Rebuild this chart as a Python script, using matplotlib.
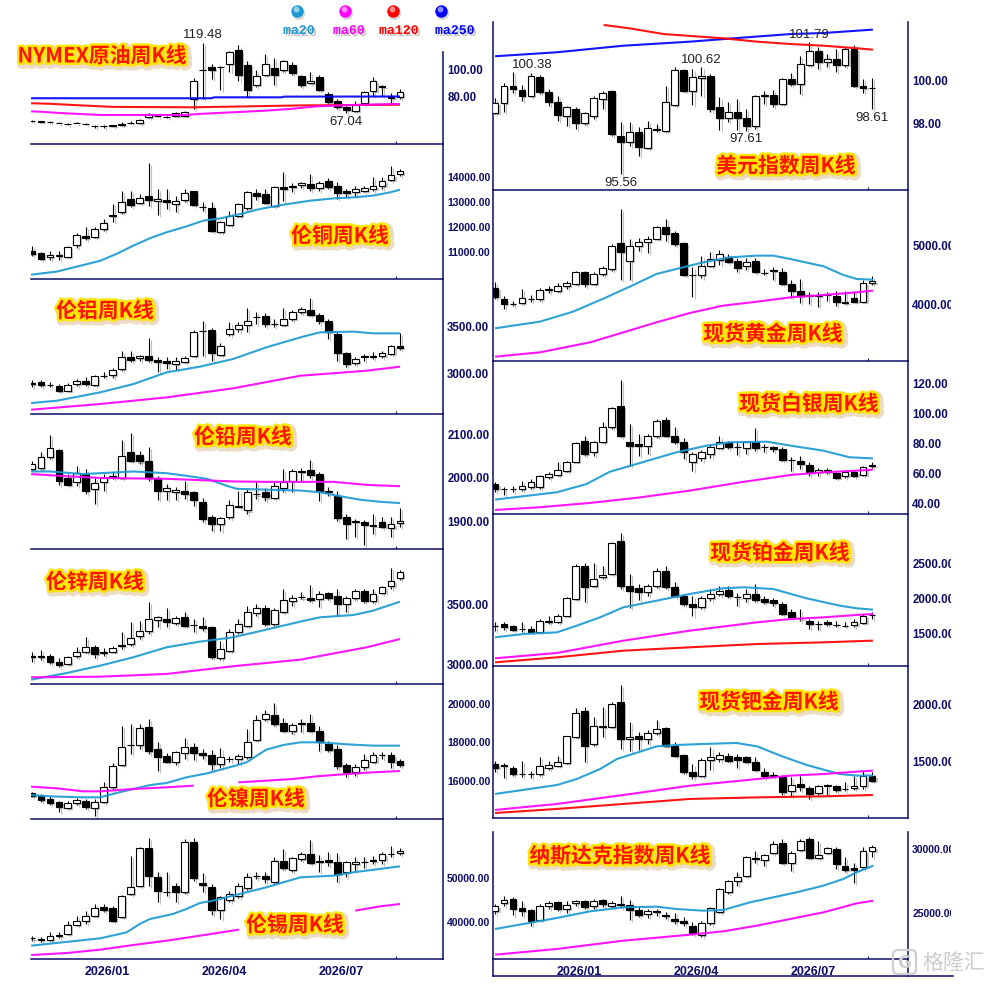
import numpy as np
import matplotlib
matplotlib.use("Agg")
import matplotlib.pyplot as plt
import matplotlib.patheffects as pe
from matplotlib.patches import FancyBboxPatch
from matplotlib.transforms import Bbox, TransformedBbox

W, H = 996, 987
NAVY = "#0c0c66"
MA_COLORS = {"ma20": "#1b9ad2", "ma60": "#ff00ff", "ma120": "#ff0000", "ma250": "#0000ff"}

date_ticks = [8.4, 21.45, 34.45]
date_labels = ["2026/01", "2026/04", "2026/07"]

# weekly candles (open, high, low, close); left column starts at week 0, right column at week -1
oil_ohlc = [
    (61.8, 62.3, 61.0, 61.5), (61.4, 61.8, 60.8, 61.0), (60.6, 61.2, 59.8, 60.5), (60.2, 60.6, 59.6, 59.9),
    (59.1, 59.8, 58.4, 59.0), (60.2, 60.8, 59.6, 59.9), (59.4, 60.0, 58.6, 59.0), (57.6, 58.2, 56.4, 57.5),
    (57.5, 58.4, 56.6, 57.6), (58.3, 58.8, 57.4, 57.9), (58.4, 60.4, 58.0, 59.2), (59.7, 61.2, 59.2, 59.9),
    (60.0, 63.0, 59.6, 62.5), (64.2, 67.4, 63.6, 66.7), (65.0, 66.0, 64.2, 65.1), (64.2, 65.0, 63.4, 64.3),
    (65.4, 67.9, 65.0, 67.2), (65.4, 68.6, 65.0, 67.9), (77.8, 93.3, 70.4, 91.4), (99.4, 119.48, 77.8, 99.6),
    (101.2, 103.7, 92.6, 99.3), (101.6, 102.2, 84.7, 101.8), (103.7, 113.6, 97.5, 112.3), (114.0, 118.0, 91.4, 95.6),
    (103.0, 106.2, 79.0, 84.7), (88.4, 99.3, 86.4, 95.1), (95.8, 111.1, 94.6, 103.7), (100.7, 107.9, 88.1, 95.6),
    (99.3, 106.9, 98.0, 106.2), (103.0, 105.4, 95.6, 97.0), (94.6, 95.6, 86.4, 88.1), (89.6, 97.5, 88.9, 91.4),
    (93.8, 95.6, 83.5, 84.7), (81.5, 83.2, 74.1, 75.8), (76.5, 77.8, 70.4, 71.6), (71.6, 72.3, 67.04, 69.6),
    (69.1, 76.5, 68.4, 73.3), (74.6, 83.5, 73.3, 82.7), (83.5, 93.8, 79.8, 91.1), (86.9, 88.1, 79.8, 87.1),
    (80.2, 82.0, 74.6, 78.5), (79.0, 85.2, 77.8, 82.7),
]
oil_ma250 = [(-0.1, 78.3), (20.0, 78.3), (20.3, 79.0), (27.8, 79.0), (28.1, 79.5), (41, 79.6)]
oil_ma120 = [(-0.1, 74.6), (2, 74.2), (5.5, 73.0), (9, 71.9), (18, 71.6), (24, 72.3), (30, 73.0), (41, 73.5)]
oil_ma60 = [(-0.1, 68.6), (1, 68.3), (3, 67.4), (7.6, 65.9), (17, 65.9), (18.7, 66.7), (22.4, 67.9),
            (26, 69.1), (28.8, 70.4), (31.7, 72.3), (35.4, 73.3), (41, 74.1)]
oil_marks = [(19, "high"), (35, "low")]

copper_ohlc = [
    (11030, 11200, 10830, 10900), (10925, 10965, 10660, 10700), (10765, 11030, 10675, 10860), (10830, 11030, 10660, 10845),
    (10790, 11230, 10765, 11160), (11255, 11730, 11120, 11665), (11625, 11955, 11465, 11520), (11560, 11955, 11530, 11890),
    (11890, 12285, 11820, 12110), (12455, 12880, 12150, 12415), (12550, 13380, 12480, 12945), (13075, 13405, 12745, 12840),
    (12920, 13275, 12880, 13100), (13180, 14500, 12810, 13035), (13000, 13470, 12440, 13075), (13050, 13470, 12680, 12945),
    (12880, 13180, 12575, 13000), (13035, 13470, 12970, 13300), (13380, 13405, 12810, 12850), (12760, 12945, 12615, 12745),
    (12705, 12945, 11755, 11820), (11780, 12220, 11715, 12150), (12045, 12615, 11995, 12390), (12415, 12920, 12350, 12865),
    (12705, 13380, 12655, 13340), (13315, 13470, 13050, 13210), (13275, 13470, 12880, 12920), (12810, 13605, 12745, 13540),
    (13540, 14160, 13010, 13470), (13540, 13710, 13340, 13605), (13650, 13760, 13500, 13690), (13670, 14065, 13405, 13500),
    (13510, 13800, 13405, 13710), (13800, 13895, 13470, 13565), (13605, 13735, 13075, 13300), (13405, 13470, 13140, 13315),
    (13340, 13605, 13140, 13470), (13405, 13605, 13340, 13510), (13470, 13935, 13405, 13605), (13605, 13935, 13470, 13775),
    (13840, 14370, 13800, 14025), (14065, 14265, 13975, 14200),
]
copper_ma20 = [(-0.1, 10080), (2.75, 10200), (5.7, 10460), (7.6, 10630), (9.4, 10900), (11.3, 11230), (13.2, 11530),
               (15, 11760), (17.2, 11990), (19.1, 12220), (21, 12310), (23.2, 12480), (25.4, 12680), (28, 12850),
               (31, 13010), (33.6, 13100), (35.8, 13140), (38, 13210), (39.9, 13340), (41, 13445)]

alu_ohlc = [
    (2885, 2921, 2839, 2880), (2893, 2921, 2839, 2868), (2866, 2893, 2839, 2862), (2857, 2875, 2786, 2804),
    (2804, 2882, 2796, 2868), (2875, 2929, 2857, 2911), (2904, 2946, 2857, 2875), (2868, 2971, 2850, 2957),
    (2962, 3000, 2936, 2966), (2971, 3043, 2936, 3029), (3036, 3232, 3018, 3161), (3161, 3232, 3114, 3132),
    (3150, 3186, 3125, 3179), (3171, 3364, 3114, 3136), (3136, 3161, 3000, 3114), (3125, 3161, 3036, 3096),
    (3089, 3161, 3029, 3125), (3114, 3179, 3100, 3150), (3171, 3457, 3161, 3436), (3443, 3554, 3179, 3446),
    (3457, 3471, 3125, 3204), (3186, 3314, 3171, 3286), (3411, 3543, 3386, 3464), (3464, 3543, 3429, 3511),
    (3507, 3686, 3429, 3554), (3594, 3643, 3518, 3598), (3600, 3636, 3482, 3514), (3520, 3571, 3482, 3516),
    (3507, 3686, 3500, 3571), (3571, 3671, 3554, 3650), (3643, 3696, 3625, 3679), (3671, 3793, 3600, 3614),
    (3614, 3636, 3518, 3554), (3546, 3571, 3357, 3436), (3411, 3436, 3125, 3204), (3204, 3214, 3054, 3089),
    (3096, 3161, 3079, 3143), (3170, 3196, 3125, 3166), (3170, 3214, 3143, 3166), (3171, 3232, 3150, 3204),
    (3196, 3293, 3186, 3279), (3279, 3421, 3243, 3257),
]
alu_ma20 = [(-0.1, 2671), (2.75, 2696), (7.6, 2786), (11.3, 2875), (15, 3000), (18.7, 3061), (22.4, 3143),
            (26.1, 3268), (29.9, 3375), (32.1, 3429), (35.8, 3436), (38, 3418), (41, 3418)]
alu_ma60 = [(-0.1, 2600), (7.6, 2661), (15, 2732), (22.4, 2829), (29.9, 2964), (37.3, 3018), (41, 3061)]

lead_ohlc = [
    (2018, 2037, 2014, 2029), (2019, 2058, 2017, 2045), (2045, 2096, 2041, 2065), (2062, 2064, 1981, 1991),
    (1998, 2006, 1978, 1981), (1987, 2024, 1978, 2008), (2006, 2018, 1960, 1966), (1972, 1998, 1937, 1985),
    (1987, 2006, 1967, 1998), (2001, 2010, 1995, 1999), (1998, 2085, 1995, 2047), (2058, 2101, 2033, 2037),
    (2050, 2060, 2029, 2035), (2035, 2068, 1991, 1996), (1996, 2002, 1947, 1966), (1966, 1984, 1947, 1973),
    (1964, 1976, 1947, 1969), (1968, 1991, 1949, 1960), (1964, 1968, 1932, 1947), (1941, 1951, 1895, 1902),
    (1906, 1911, 1875, 1891), (1891, 1907, 1875, 1904), (1906, 1947, 1902, 1935), (1931, 1966, 1929, 1933),
    (1922, 1972, 1914, 1965), (1959, 1987, 1949, 1961), (1964, 1973, 1943, 1952), (1950, 1987, 1949, 1978),
    (1975, 2017, 1964, 1987), (1991, 2017, 1964, 2014), (2010, 2019, 1991, 2014), (2015, 2039, 1998, 2004),
    (2006, 2010, 1945, 1968), (1968, 1976, 1955, 1964), (1956, 1966, 1897, 1904), (1906, 1914, 1856, 1891),
    (1895, 1902, 1860, 1898), (1895, 1901, 1842, 1888), (1889, 1914, 1867, 1887), (1895, 1906, 1881, 1883),
    (1881, 1908, 1860, 1891), (1893, 1927, 1883, 1898),
]
lead_ma20 = [(-0.1, 2012), (2, 2012), (5.7, 2006), (9.4, 2010), (11.3, 2012), (15, 2008), (17.2, 2002), (19.5, 1995),
             (21.7, 1979), (22.8, 1972), (26.1, 1970), (29.9, 1968), (32.1, 1964), (34.3, 1955), (36.5, 1947),
             (38.8, 1942), (41, 1939)]
lead_ma60 = [(-0.1, 2006), (3.9, 2001), (7.6, 1997), (11.3, 1996), (15, 1995), (18.7, 1992), (22.4, 1989),
             (26.1, 1988), (33.6, 1988), (37.3, 1981), (41, 1978)]

zinc_ohlc = [
    (3062, 3097, 3019, 3066), (3069, 3119, 3036, 3056), (3069, 3083, 3000, 3019), (3019, 3047, 2978, 2992),
    (3000, 3069, 2992, 3056), (3064, 3139, 3047, 3103), (3103, 3222, 3089, 3144), (3139, 3158, 3047, 3083),
    (3095, 3130, 3064, 3099), (3103, 3147, 3097, 3130), (3152, 3267, 3125, 3155), (3167, 3347, 3147, 3214),
    (3231, 3356, 3208, 3278), (3278, 3519, 3250, 3375), (3367, 3403, 3306, 3389), (3375, 3464, 3306, 3347),
    (3342, 3403, 3325, 3381), (3389, 3431, 3306, 3314), (3323, 3375, 3264, 3327), (3314, 3389, 3272, 3297),
    (3306, 3319, 3042, 3056), (3047, 3194, 3036, 3125), (3111, 3292, 3097, 3269), (3269, 3375, 3250, 3333),
    (3319, 3486, 3306, 3431), (3425, 3500, 3403, 3464), (3464, 3492, 3319, 3333), (3333, 3464, 3314, 3450),
    (3436, 3625, 3425, 3536), (3528, 3575, 3486, 3547), (3554, 3597, 3542, 3558), (3547, 3658, 3514, 3536),
    (3542, 3611, 3472, 3583), (3592, 3603, 3536, 3547), (3564, 3625, 3408, 3500), (3500, 3569, 3436, 3547),
    (3547, 3625, 3536, 3611), (3611, 3625, 3508, 3528), (3528, 3625, 3508, 3583), (3592, 3653, 3583, 3639),
    (3647, 3797, 3625, 3694), (3717, 3786, 3703, 3764),
]
zinc_ma20 = [(-0.1, 2869), (3.9, 2925), (7.6, 2986), (11.3, 3056), (15, 3139), (18.7, 3186), (22.4, 3222),
             (26.1, 3286), (29.9, 3353), (32.1, 3389), (35.8, 3408), (38, 3444), (41, 3519)]
zinc_ma60 = [(-0.1, 2889), (7.6, 2894), (15, 2917), (22.4, 2981), (29.9, 3036), (37.3, 3139), (41, 3208)]

nickel_ohlc = [
    (15298, 15385, 15090, 15177), (15177, 15263, 14865, 14969), (15004, 15142, 14692, 14796), (14830, 14917, 14311, 14571),
    (14519, 14917, 14484, 14796), (14796, 15038, 14692, 14969), (14917, 15004, 14484, 14571), (14519, 15004, 14138, 14865),
    (14830, 15904, 14796, 15610), (15610, 16874, 15523, 16736), (16770, 18779, 16701, 17688), (17800, 18900, 17342, 17820),
    (17809, 18900, 17602, 18675), (18727, 19160, 17342, 17515), (17602, 17948, 16476, 17169), (17221, 17394, 16874, 16943),
    (16909, 17515, 16770, 17428), (17394, 18156, 17082, 17688), (17688, 17913, 17047, 17394), (17394, 17602, 17082, 17290),
    (17290, 17567, 16528, 16822), (16822, 17636, 16597, 17169), (17070, 17221, 16909, 17090), (17082, 17342, 16822, 17255),
    (17169, 18641, 17082, 17948), (18087, 19368, 18035, 19126), (19160, 19645, 19074, 19420), (19368, 19992, 18814, 18900),
    (18935, 19195, 18468, 18554), (18520, 18953, 18381, 18866), (18925, 19160, 18502, 18940), (18935, 19420, 18468, 18554),
    (18554, 18779, 17515, 17948), (17861, 18035, 17428, 17567), (17602, 17809, 16562, 16736), (16770, 16874, 16129, 16389),
    (16389, 16822, 16181, 16684), (16649, 17342, 16528, 17047), (16943, 17463, 16874, 17290), (17280, 17428, 17082, 17300),
    (17290, 17428, 16597, 16943), (16995, 17082, 16649, 16770),
]
nickel_ma20 = [(-0.1, 15211), (2, 15142), (5.7, 15090), (7.6, 15090), (9.4, 15315), (11.3, 15523), (13.2, 15731),
               (15, 15835), (17.2, 16129), (19.5, 16337), (22.4, 16701), (23.9, 16909), (26.1, 17567), (28, 17810),
               (29.9, 17948), (32.1, 17948), (35.1, 17844), (38, 17775), (41, 17775)]
nickel_ma60 = [(-0.1, 15645), (2.75, 15558), (5.7, 15402), (7.6, 15402), (11.3, 15523), (15, 15610), (18, 15697),
               None, (23, 15869), (26.1, 15956), (29.1, 16043), (31.7, 16181), (35.1, 16302), (38, 16389), (41, 16458)]

tin_ohlc = [
    (36100, 36742, 35606, 36172), (35985, 36364, 35227, 35758), (35833, 37652, 35606, 36742), (36894, 37500, 36136, 36591),
    (37121, 40152, 36894, 39242), (39242, 41288, 38864, 40152), (40000, 42424, 39394, 41136), (41288, 43939, 41136, 42955),
    (43182, 43939, 42045, 42652), (42955, 43561, 39924, 40152), (40909, 45985, 40682, 45682), (46212, 54924, 45985, 47727),
    (47955, 56818, 47727, 56591), (56591, 58864, 48106, 50379), (50000, 51136, 44470, 46970), (46780, 51136, 45833, 46700),
    (47955, 48712, 44470, 46591), (46591, 58712, 46212, 58106), (57955, 58864, 49242, 49848), (48712, 50985, 46591, 48258),
    (47727, 48485, 41439, 42652), (42576, 45833, 40530, 45455), (44924, 46970, 44470, 46212), (45833, 48712, 45227, 48106),
    (47500, 50985, 47197, 50000), (50260, 51136, 49621, 50200), (50379, 51136, 48712, 49621), (48864, 54545, 48712, 53788),
    (53788, 56439, 51742, 52045), (51742, 54545, 51288, 54318), (54167, 55833, 53788, 55303), (55303, 58561, 53030, 53258),
    (53788, 55076, 51136, 53409), (54015, 55682, 52652, 53409), (53409, 55530, 49015, 50758), (51288, 53788, 50000, 53561),
    (53030, 54545, 51515, 53561), (53530, 54545, 52045, 53590), (53939, 54773, 53030, 53636), (53939, 55682, 53030, 55303),
    (55280, 57045, 54545, 55320), (55530, 56591, 55076, 56061),
]
tin_ma20 = [(-0.1, 34470), (7.6, 36136), (10.55, 37500), (12.0, 39394), (13.15, 40530), (15.7, 41667), (17.2, 42803),
            (18.7, 44167), (20.2, 44697), (22.4, 45833), (26.1, 47727), (29.9, 50000), (33.6, 50379), (35.8, 51136),
            (41, 52500)]
tin_ma60 = [(-0.1, 32348), (3.9, 32803), (7.6, 33561), (11.3, 34621), (15, 35606), (18.7, 36742), (23.06, 38106),
            None, (36.0, 42424), (38.8, 43409), (41, 43939)]

dxy_ohlc = [
    (98.44, 99.13, 98.39, 98.91), (98.91, 99.86, 98.50, 99.70), (99.70, 100.38, 99.39, 99.57), (99.54, 99.76, 99.02, 99.26),
    (99.23, 100.33, 99.18, 100.17), (100.13, 100.24, 99.34, 99.42), (99.42, 99.57, 98.79, 98.94), (98.98, 99.26, 98.08, 98.35),
    (98.31, 98.79, 97.84, 98.71), (98.63, 98.71, 97.68, 97.97), (97.97, 98.50, 97.87, 98.43), (98.31, 99.26, 98.16, 99.13),
    (99.10, 99.50, 98.63, 99.37), (99.50, 99.54, 97.37, 97.45), (97.37, 98.00, 95.56, 97.09), (97.05, 98.00, 96.90, 97.56),
    (97.56, 97.76, 96.42, 96.82), (96.77, 98.08, 96.74, 97.72), (97.63, 97.92, 97.53, 97.66), (97.61, 99.70, 97.56, 98.94),
    (98.83, 100.60, 98.79, 100.49), (100.47, 100.52, 99.42, 99.50), (99.50, 100.52, 98.82, 100.16), (100.08, 100.62, 99.26, 100.17),
    (100.17, 100.28, 98.50, 98.63), (98.71, 99.18, 97.65, 98.19), (98.19, 98.94, 98.00, 98.47), (98.47, 99.10, 97.65, 98.19),
    (98.19, 98.63, 97.61, 97.81), (97.81, 99.29, 97.68, 99.23), (99.23, 99.50, 98.87, 99.31), (99.29, 99.54, 98.71, 98.87),
    (98.87, 100.08, 98.82, 100.05), (100.05, 100.33, 99.70, 99.81), (99.81, 101.12, 99.34, 100.76), (100.71, 101.79, 100.68, 101.39),
    (101.39, 101.54, 100.52, 100.83), (100.83, 101.23, 100.60, 100.99), (100.99, 101.46, 100.36, 100.72), (100.71, 101.54, 100.60, 101.46),
    (101.46, 101.65, 99.65, 99.73), (99.70, 100.05, 99.39, 99.61), (99.62, 100.08, 98.61, 99.61),
]
dxy_ma250 = [(-1, 101.12), (5.9, 101.31), (13.3, 101.62), (20.7, 101.81), (25.6, 101.97), (31.9, 102.17),
             (35.6, 102.22), (41.1, 102.38)]
dxy_ma120 = [(11.1, 102.60), (14.0, 102.44), (17.8, 102.17), (24.4, 101.97), (28.2, 101.81), (31.9, 101.70),
             (35.6, 101.62), (39.3, 101.50), (41.1, 101.43)]
dxy_marks = [(1, "high"), (13, "low"), (22, "high"), (27, "low"), (34, "high"), (41, "low")]

gold_ohlc = [
    (4264, 4365, 4084, 4112), (4084, 4129, 3916, 4000), (4003, 4056, 3961, 3997), (4017, 4253, 4000, 4096),
    (4084, 4152, 4039, 4086), (4084, 4264, 4056, 4242), (4242, 4298, 4185, 4245), (4225, 4354, 4197, 4309),
    (4298, 4393, 4253, 4354), (4337, 4562, 4320, 4534), (4545, 4562, 4292, 4337), (4337, 4545, 4320, 4506),
    (4506, 4635, 4466, 4601), (4590, 5017, 4562, 4983), (5028, 5601, 4410, 4871), (4730, 5096, 4410, 4972),
    (4972, 5107, 4899, 5051), (5051, 5152, 4860, 5096), (5096, 5309, 5096, 5292), (5292, 5433, 5067, 5180),
    (5191, 5236, 4983, 5011), (5028, 5051, 4478, 4489), (4489, 4618, 4112, 4492), (4489, 4815, 4433, 4646),
    (4635, 4871, 4618, 4758), (4747, 4910, 4657, 4843), (4787, 4843, 4685, 4713), (4730, 4770, 4545, 4607),
    (4635, 4770, 4567, 4713), (4730, 4770, 4522, 4545), (4525, 4590, 4489, 4519), (4565, 4630, 4410, 4560),
    (4545, 4607, 4320, 4337), (4337, 4404, 4107, 4225), (4225, 4421, 4017, 4140), (4142, 4197, 4000, 4138),
    (4129, 4197, 3944, 4152), (4154, 4197, 4056, 4150), (4129, 4219, 3972, 4028), (4017, 4219, 4000, 4039),
    (4096, 4219, 4028, 4039), (4039, 4404, 4028, 4354), (4354, 4477, 4320, 4393),
]
gold_ma20 = [(-1, 3590), (4, 3702), (7.7, 3871), (11.4, 4112), (14.4, 4320), (17, 4506), (19.2, 4590), (22.2, 4702),
             (25.2, 4787), (28.2, 4815), (30, 4815), (31.9, 4758), (35.6, 4635), (37.8, 4489), (39.3, 4421), (41.1, 4410)]
gold_ma60 = [(-1, 3112), (4, 3185), (9.6, 3354), (13.3, 3522), (17, 3691), (20.7, 3848), (24.4, 3972), (28.2, 4039),
             (31.9, 4112), (35.6, 4152), (39.3, 4197), (41.1, 4225)]

silver_ohlc = [
    (52.2, 53.3, 46.7, 48.9), (48.95, 50.0, 45.1, 48.85), (48.95, 51.1, 46.7, 48.85), (48.9, 54.4, 47.8, 51.1),
    (50.0, 55.6, 48.9, 53.3), (50.0, 58.2, 48.9, 57.3), (56.7, 60.4, 55.6, 58.9), (58.2, 67.1, 57.3, 61.8),
    (61.1, 67.8, 60.0, 67.1), (67.1, 80.0, 66.7, 79.6), (81.1, 84.4, 71.1, 72.2), (73.3, 81.1, 71.1, 80.0),
    (80.0, 93.3, 79.6, 90.0), (90.0, 103.3, 88.9, 102.7), (104.4, 121.8, 83.3, 84.4), (80.4, 92.2, 64.4, 77.8),
    (78.9, 85.6, 71.1, 77.3), (77.8, 85.6, 72.2, 84.4), (84.0, 95.6, 82.7, 94.0), (95.1, 96.7, 83.3, 84.4),
    (84.4, 90.0, 78.9, 80.0), (80.4, 82.7, 68.9, 73.3), (67.1, 73.3, 61.1, 72.2), (69.3, 75.1, 67.8, 73.3),
    (72.2, 78.9, 69.3, 76.7), (76.0, 84.0, 75.6, 80.4), (80.4, 81.1, 75.6, 76.7), (76.8, 80.0, 71.6, 76.6),
    (76.0, 81.1, 72.2, 80.0), (80.4, 89.3, 74.4, 76.0), (76.8, 78.9, 73.3, 76.6), (76.7, 77.8, 73.8, 75.6),
    (75.6, 76.7, 67.8, 68.4), (68.5, 70.0, 61.1, 68.3), (67.8, 71.1, 62.2, 65.6), (64.9, 66.7, 57.3, 60.0),
    (60.0, 62.7, 57.3, 61.8), (61.8, 62.7, 58.9, 60.0), (59.6, 60.4, 55.6, 56.0), (57.3, 61.1, 56.0, 60.0),
    (60.0, 61.8, 56.7, 57.8), (58.2, 64.4, 57.3, 63.3), (64.9, 66.7, 62.7, 64.0),
]
silver_ma20 = [(-1, 41.8), (5.9, 46.7), (9.2, 52.2), (11.8, 60.4), (14.4, 64.9), (19.2, 73.3), (22.6, 77.8),
               (25.2, 80.0), (29.3, 80.4), (31.9, 77.8), (35.6, 74.4), (38.5, 70.0), (41.1, 69.3)]
silver_ma60 = [(-1, 34.9), (4, 36.7), (9.6, 39.6), (15.2, 43.3), (20.7, 47.8), (26.3, 53.3), (31.9, 58.2),
               (35.6, 60.0), (39.3, 61.1), (41.1, 61.8)]

plat_ohlc = [
    (1597, 1643, 1524, 1593), (1619, 1643, 1538, 1571), (1586, 1605, 1524, 1538), (1550, 1643, 1500, 1546),
    (1548, 1586, 1500, 1510), (1510, 1690, 1490, 1667), (1643, 1729, 1619, 1667), (1652, 1762, 1633, 1738),
    (1738, 2000, 1729, 1986), (1976, 2476, 1967, 2452), (2452, 2490, 1938, 2143), (2167, 2490, 2143, 2262),
    (2286, 2452, 2262, 2319), (2333, 2795, 2319, 2776), (2810, 2919, 2119, 2167), (2167, 2333, 1843, 2095),
    (2129, 2190, 1967, 2071), (2071, 2190, 2024, 2167), (2157, 2414, 2129, 2381), (2381, 2452, 2119, 2143),
    (2143, 2224, 2000, 2024), (2014, 2048, 1881, 1905), (1905, 2024, 1738, 1857), (1857, 2014, 1833, 1986),
    (1986, 2119, 1952, 2048), (2048, 2157, 2014, 2095), (2110, 2157, 1986, 2014), (2002, 2062, 1881, 1998),
    (1986, 2119, 1938, 2048), (2048, 2190, 1929, 1967), (1976, 2014, 1905, 1929), (1967, 1986, 1881, 1919),
    (1905, 1929, 1748, 1762), (1786, 1833, 1690, 1714), (1702, 1833, 1667, 1698), (1667, 1690, 1548, 1619),
    (1621, 1667, 1538, 1617), (1643, 1681, 1595, 1619), (1607, 1667, 1571, 1603), (1597, 1643, 1571, 1593),
    (1605, 1690, 1571, 1643), (1633, 1762, 1619, 1738), (1746, 1786, 1690, 1750),
]
plat_ma20 = [(-1, 1429), (2.2, 1476), (5.9, 1500), (8.1, 1595), (10.7, 1714), (13.3, 1857), (17, 1952), (20.7, 2048),
             (24.4, 2129), (26.7, 2143), (30, 2119), (33.7, 1986), (37.4, 1881), (39.3, 1843), (41.1, 1824)]
plat_ma60 = [(-1, 1129), (5.9, 1205), (13.3, 1381), (20.7, 1524), (28.2, 1643), (31.9, 1690), (35.6, 1714),
             (39.3, 1748), (41.1, 1762)]
plat_ma120 = [(-1, 1071), (5.9, 1143), (13.3, 1238), (20.7, 1286), (28.2, 1333), (35.6, 1357), (41.1, 1381)]

pall_ohlc = [
    (1471, 1500, 1397, 1432), (1458, 1479, 1344, 1454), (1432, 1456, 1368, 1382), (1384, 1500, 1353, 1380),
    (1384, 1412, 1344, 1380), (1382, 1529, 1368, 1450), (1432, 1500, 1421, 1462), (1456, 1538, 1450, 1485),
    (1479, 1721, 1471, 1715), (1706, 1962, 1697, 1921), (1941, 1971, 1485, 1632), (1647, 1882, 1626, 1809),
    (1809, 1971, 1706, 1794), (1794, 2021, 1785, 2000), (2015, 2168, 1603, 1691), (1691, 1838, 1588, 1706),
    (1715, 1756, 1597, 1691), (1691, 1774, 1647, 1744), (1744, 1862, 1726, 1779), (1785, 1794, 1618, 1632),
    (1632, 1662, 1529, 1544), (1550, 1559, 1382, 1397), (1397, 1471, 1338, 1368), (1368, 1521, 1353, 1509),
    (1509, 1618, 1421, 1529), (1515, 1579, 1491, 1550), (1544, 1568, 1485, 1500), (1529, 1559, 1432, 1509),
    (1529, 1538, 1479, 1485), (1485, 1529, 1412, 1421), (1403, 1432, 1344, 1362), (1370, 1397, 1353, 1366),
    (1353, 1374, 1197, 1226), (1235, 1353, 1191, 1285), (1294, 1368, 1235, 1265), (1256, 1279, 1162, 1206),
    (1215, 1285, 1197, 1274), (1281, 1294, 1197, 1277), (1274, 1285, 1226, 1244), (1248, 1309, 1235, 1252),
    (1256, 1368, 1244, 1279), (1274, 1412, 1250, 1368), (1368, 1397, 1309, 1324),
]
pall_ma20 = [(-1, 1206), (5.9, 1285), (8.1, 1338), (10.7, 1426), (12.6, 1515), (14, 1550), (17, 1626), (19.2, 1638),
             (22.2, 1647), (25.9, 1656), (28.2, 1626), (30.8, 1544), (33.7, 1462), (37.4, 1382), (39.3, 1368), (41.1, 1368)]
pall_ma60 = [(-1, 1065), (5.9, 1118), (13.3, 1197), (20.7, 1279), (28.2, 1338), (31.9, 1368), (35.6, 1382),
             (39.3, 1403), (41.1, 1412)]
pall_ma120 = [(-1, 1038), (5.9, 1074), (13.3, 1118), (20.7, 1162), (28.2, 1176), (35.6, 1185), (41.1, 1197)]

ndx_ohlc = [
    (25130, 25651, 24870, 25521), (25703, 26302, 25521, 25964), (26042, 26172, 24818, 25260), (25339, 25860, 24740, 25130),
    (25183, 25260, 23958, 24349), (24401, 25651, 24349, 25521), (25521, 25860, 25260, 25703), (25781, 25912, 25130, 25260),
    (25260, 25860, 24922, 25599), (25703, 25964, 25521, 25860), (25860, 25964, 25260, 25391), (25521, 26042, 25260, 25912),
    (25964, 26042, 25443, 25651), (25521, 25860, 25339, 25703), (25570, 26302, 25339, 25620), (25599, 25964, 24401, 25183),
    (25183, 25391, 24610, 24818), (24870, 25260, 24557, 25130), (25060, 25260, 24740, 25095), (24760, 25000, 24479, 24720),
    (24479, 24922, 24089, 24297), (24297, 24662, 23958, 24141), (23958, 24219, 23255, 23359), (23255, 24349, 23099, 24141),
    (24141, 25443, 24037, 25339), (25000, 26901, 24922, 26823), (26563, 27526, 26432, 27474), (27474, 28125, 27083, 27786),
    (27865, 29427, 27734, 29349), (29245, 29766, 28828, 29167), (29089, 29583, 28646, 29505), (29609, 30547, 29557, 30339),
    (30391, 30729, 28776, 28828), (28828, 29766, 28203, 29609), (29870, 30729, 29766, 30599), (30729, 30859, 29167, 29245),
    (29245, 30599, 29167, 29505), (29609, 30078, 29557, 30026), (29948, 30078, 28385, 28776), (28646, 29349, 28125, 28307),
    (28463, 28828, 27266, 28307), (28516, 30078, 28385, 29766), (29766, 30287, 29349, 30078),
]
ndx_ma20 = [(-1, 23698), (2.15, 24089), (5.87, 24557), (9.58, 25078), (13.29, 25391), (17, 25443), (19.23, 25260),
            (22.2, 25130), (24.43, 25183), (27.4, 25781), (30, 26172), (32.6, 26563), (35.57, 27083), (37.8, 27604),
            (39.29, 28125), (41.14, 28646)]
ndx_ma60 = [(-1, 21693), (5.87, 22136), (13.29, 22787), (20.72, 23255), (24.43, 23516), (28.15, 23958), (31.86, 24479),
            (35.57, 25000), (39.29, 25703), (41.14, 25912)]

# panel table: ohlc, first week, ma lines, y ticks, column, top px, bottom px, y range, title, title centre px, marks
panels = [
    (oil_ohlc, 0, [(oil_ma250, "ma250"), (oil_ma120, "ma120"), (oil_ma60, "ma60")], [100, 80], 0, 23, 145,
     (44.4, 134.8), "NYMEX原油周K线", (102, 57), oil_marks),
    (copper_ohlc, 0, [(copper_ma20, "ma20")], [14000, 13000, 12000, 11000], 0, 145, 280,
     (9908, 15254), "伦铜周K线", (340, 237), []),
    (alu_ohlc, 0, [(alu_ma20, "ma20"), (alu_ma60, "ma60")], [3500, 3000], 0, 280, 415,
     (2554, 4000), "伦铝周K线", (105, 312), []),
    (lead_ohlc, 0, [(lead_ma20, "ma20"), (lead_ma60, "ma60")], [2100, 2000, 1900], 0, 415, 550,
     (1833.1, 2144.6), "伦铅周K线", (243, 438), []),
    (zinc_ohlc, 0, [(zinc_ma20, "ma20"), (zinc_ma60, "ma60")], [3500, 3000], 0, 550, 685,
     (2833, 3958), "伦锌周K线", (95, 583), []),
    (nickel_ohlc, 0, [(nickel_ma20, "ma20"), (nickel_ma60, "ma60")], [20000, 18000, 16000], 0, 685, 820,
     (13964, 20979), "伦镍周K线", (256, 800), []),
    (tin_ohlc, 0, [(tin_ma20, "ma20"), (tin_ma60, "ma60")], [50000, 40000], 0, 820, 960,
     (31439, 63258), "伦锡周K线", (295, 926), []),
    (dxy_ohlc, -1, [(dxy_ma250, "ma250"), (dxy_ma120, "ma120")], [100, 98], 1, 23, 191,
     (94.80, 102.74), "美元指数周K线", (786, 167), dxy_marks),
    (gold_ohlc, -1, [(gold_ma20, "ma20"), (gold_ma60, "ma60")], [5000, 4000], 1, 191, 362,
     (3039, 5921), "现货黄金周K线", (773, 335), []),
    (silver_ohlc, -1, [(silver_ma20, "ma20"), (silver_ma60, "ma60")], [120, 100, 80, 60, 40], 1, 362, 515,
     (32.2, 134.2), "现货白银周K线", (809, 405), []),
    (plat_ohlc, -1, [(plat_ma20, "ma20"), (plat_ma60, "ma60"), (plat_ma120, "ma120")], [2500, 2000, 1500], 1, 515, 667,
     (1019, 3190), "现货铂金周K线", (780, 554), []),
    (pall_ohlc, -1, [(pall_ma20, "ma20"), (pall_ma60, "ma60"), (pall_ma120, "ma120")], [2000, 1500], 1, 667, 819,
     (994, 2335), "现货钯金周K线", (769, 703), []),
    (ndx_ohlc, -1, [(ndx_ma20, "ma20"), (ndx_ma60, "ma60")], [30000, 25000], 1, 833, 960,
     (21355, 31276), "纳斯达克指数周K线", (620, 857), []),
]

fig = plt.figure(figsize=(W / 100, H / 100), dpi=100)
line_shadow = [pe.SimpleLineShadow(offset=(1.5, -1.5), shadow_color="0.45", alpha=0.45), pe.Normal()]
body_shadow = [pe.SimplePatchShadow(offset=(1.5, -1.5), shadow_rgbFace="0.5", alpha=0.45), pe.Normal()]

for ohlc, first, mas, yticks, col, top, bottom, ylim, title, tpos, marks in panels:
    if col == 0:
        x0, x1, xlim, clip_x = 31, 443, (-0.11, 45.79), 492
    else:
        x0, x1, xlim, clip_x = 493, 908, (-1.225, 45.01), 951
    ax = fig.add_axes([x0 / W, 1 - bottom / H, (x1 - x0) / W, (bottom - top) / H])
    ax.set_xlim(*xlim)
    ax.set_ylim(*ylim)
    ax.patch.set_alpha(0)
    for s in ax.spines.values():
        s.set_color(NAVY)
        s.set_linewidth(1.1)
    ax.spines["top"].set_visible(False)
    ax.spines["left"].set_visible(col == 1)
    if top == 23 and col == 0:
        ax.spines["right"].set_bounds(ylim[0], 112.6)

    # candles
    arr = np.array(ohlc, dtype=float)
    o, h, l, c = arr.T
    x = np.arange(first, first + len(arr))
    ax.vlines(x, l, h, colors="black", linewidth=0.8, zorder=2, path_effects=line_shadow)
    span = ylim[1] - ylim[0]
    body = np.maximum(np.abs(c - o), span * 0.002)
    bars = ax.bar(x, body, 0.76, np.minimum(o, c), color=np.where(c >= o, "white", "black"),
                  edgecolor="black", linewidth=0.8, zorder=3)
    for b in bars:
        b.set_path_effects(body_shadow)

    for knots, name in mas:
        xs = [np.nan if k is None else k[0] for k in knots]
        vs = [np.nan if k is None else k[1] for k in knots]
        ax.plot(xs, vs, color=MA_COLORS[name], lw=1.5, zorder=4, alpha=0.92, solid_capstyle="butt")

    for idx, side in marks:
        oo, hh, ll, cc = ohlc[idx - first]
        v = hh if side == "high" else ll
        ha = "left" if (idx - first) < 3 else "center"
        ax.annotate(f"{v:.2f}", (idx, v), xytext=(-1 if ha == "left" else 0, 6 if side == "high" else -5.6),
                    textcoords="offset points", ha=ha, va="center", fontsize=9.5, color="#202020",
                    family="Liberation Sans", annotation_clip=False, zorder=6)

    ax.yaxis.tick_right()
    labels = [f"{t:.2f}" for t in yticks]
    size = 7.5 if max(len(s) for s in labels) >= 8 else 8.3
    ax.set_yticks(yticks, labels, fontsize=size, fontweight="bold", color=NAVY, family="Liberation Sans")
    ax.tick_params(axis="y", length=0, pad=3)
    clipbox = TransformedBbox(Bbox.from_extents(0, 0, clip_x / W, 1), fig.transFigure)
    for t in ax.get_yticklabels():
        t.set_clip_box(clipbox)
        t.set_clip_on(True)

    ax.set_xticks([])
    ax.set_xticks([40.55], minor=True)
    ax.tick_params(axis="x", which="minor", direction="in", length=2, width=0.8, color=NAVY)
    if bottom == 960:
        ax.set_xticks(date_ticks, date_labels, fontsize=9, fontweight="bold", color=NAVY, family="Liberation Sans")
        ax.tick_params(axis="x", which="major", length=0, pad=4)
    if col == 1 and bottom == 960:
        ext = 17 / (bottom - top)
        for xs, ys in [((0, 0), (0, -ext)), ((1, 1), (0, -ext)), ((0, 460 / 415), (-ext, -ext))]:
            ax.plot(xs, ys, transform=ax.transAxes, clip_on=False, color=NAVY, lw=1.1)

# overlay for titles, legend and watermark (pixel coordinates)
ov = fig.add_axes([0, 0, 1, 1])
ov.set_xlim(0, W)
ov.set_ylim(H, 0)
ov.set_axis_off()
ov.patch.set_alpha(0)

title_fx = [pe.Stroke(linewidth=6, foreground="#c89a50", alpha=0.35, offset=(1.5, -1.5)),
            pe.Stroke(linewidth=3.5, foreground="#ffe800"), pe.Normal()]
for ohlc, first, mas, yticks, col, top, bottom, ylim, title, tpos, marks in panels:
    ov.text(tpos[0], tpos[1], title, ha="center", va="center", fontsize=15, fontweight="bold",
            color="#ff1400", family=["Noto Sans CJK SC", "DejaVu Sans"], path_effects=title_fx, zorder=10)

legend_names = ["ma20", "ma60", "ma120", "ma250"]
legend_x = [299, 349, 399, 455]
ball_x = [297, 345, 393, 441]
for name, lx, bx in zip(legend_names, legend_x, ball_x):
    ov.scatter([bx + 1], [14], s=90, color="0.6", alpha=0.4, zorder=9, linewidths=0)
    ov.scatter([bx], [12], s=80, color=MA_COLORS[name], zorder=10, linewidths=0)
    ov.scatter([bx - 1.5], [10], s=18, color="white", alpha=0.55, zorder=11, linewidths=0)
    ov.text(lx, 32, name, ha="center", va="center", fontsize=9.5, fontweight="bold", color=MA_COLORS[name],
            family="Liberation Mono", zorder=10,
            path_effects=[pe.SimplePatchShadow(offset=(1.5, -1.5), shadow_rgbFace="0.55", alpha=0.5), pe.Normal()])

# watermark
ov.add_patch(FancyBboxPatch((893, 951), 23, 24, boxstyle="round,pad=0,rounding_size=5",
                            fill=False, edgecolor="#cfcfcf", lw=1.6, zorder=12))
ov.text(904.5, 963, "G", ha="center", va="center", fontsize=12, fontweight="bold", color="#cfcfcf", zorder=12)
ov.text(954, 963, "格隆汇", ha="center", va="center", fontsize=15, color="#cccccc",
        family=["Noto Sans CJK SC", "DejaVu Sans"], zorder=12)

fig.savefig("out.png", dpi=100)
